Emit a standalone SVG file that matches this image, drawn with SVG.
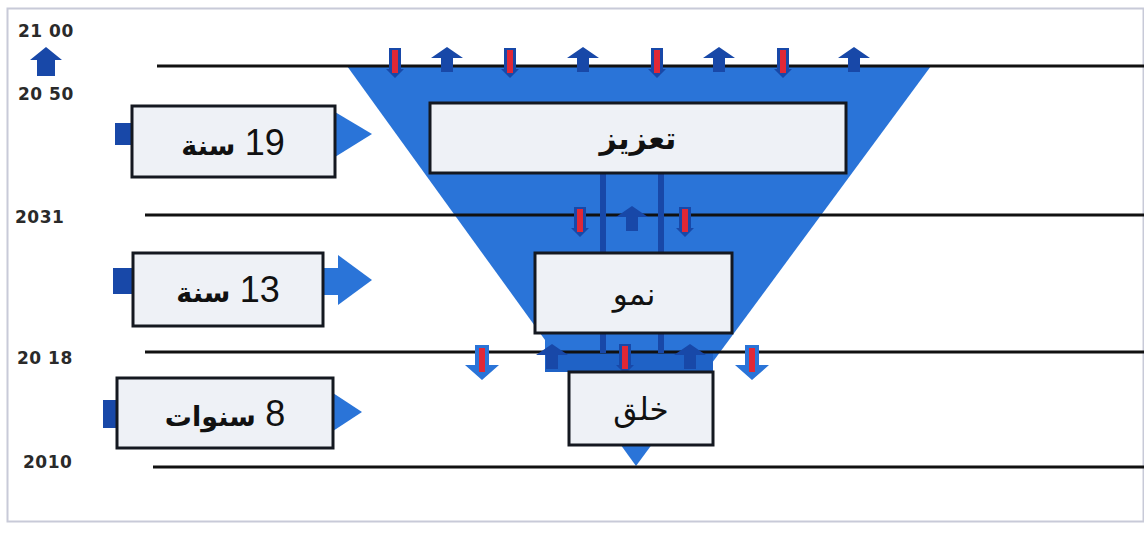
<svg xmlns="http://www.w3.org/2000/svg" width="1144" height="534" viewBox="0 0 1144 534">
<style>
.yr{font-family:"DejaVu Sans",sans-serif;font-weight:bold;font-size:17px;letter-spacing:0.5px;fill:#2a2a2a}
.ln{stroke:#111;stroke-width:3;fill:none}
.box{fill:#eef1f6;stroke:#141820;stroke-width:3}
.ar{font-family:"DejaVu Sans",sans-serif;fill:#111}
.b{font-weight:bold}
.num{font-family:"Liberation Sans",Arial,sans-serif;font-size:36px;fill:#111}
.fun{fill:#2a74d8}
.dk{fill:#1848a8}
.rd{fill:#e02836}
</style>
<defs>
<g id="upA"><polygon points="-16,11 0,0 16,11 6,11 6,25 -6,25 -6,11" class="dk"/></g>
<g id="redDn"><polygon points="-6,0 6,0 6,21 9,21 0,30 -9,21 -6,21" class="dk"/><rect x="-3" y="2" width="6" height="23" class="rd"/></g>
<g id="bigDn"><polygon points="-7,0 7,0 7,20 17,20 0,35 -17,20 -7,20" class="fun"/><rect x="-3" y="3" width="6" height="24" class="rd"/></g>
</defs>
<rect x="7.5" y="8.5" width="1136" height="513" fill="#fff" stroke="#c8cad8" stroke-width="2"/>
<g id="years">
<text class="yr" x="18" y="37">21 00</text>
<polygon points="30,60 46,47 62,60 55,60 55,76 37,76 37,60" class="dk"/>
<text class="yr" x="18" y="100">20 50</text>
<text class="yr" x="15" y="223">2031</text>
<text class="yr" x="17" y="364">20 18</text>
<text class="yr" x="23" y="468">2010</text>
</g>
<g id="funnel">
<polygon points="347,66 931,66 636,466" class="fun"/>
<rect x="545" y="340" width="168" height="32" class="fun"/>
<rect x="545" y="352" width="168" height="20" fill="#1f62c6"/>
</g>
<g id="connectors">
<line x1="157" y1="66" x2="1144" y2="66" class="ln"/>
<line x1="145" y1="215" x2="1144" y2="215" class="ln"/>
<line x1="145" y1="352" x2="1144" y2="352" class="ln"/>
<line x1="153" y1="467" x2="1144" y2="467" class="ln"/>
<rect x="600" y="173" width="6" height="180" class="dk"/>
<rect x="658" y="173" width="6" height="180" class="dk"/>
<use href="#redDn" x="395" y="48"/>
<use href="#redDn" x="510" y="48"/>
<use href="#redDn" x="657" y="48"/>
<use href="#redDn" x="783" y="48"/>
<use href="#upA" x="447" y="47"/>
<use href="#upA" x="583" y="47"/>
<use href="#upA" x="719" y="47"/>
<use href="#upA" x="854" y="47"/>
<use href="#redDn" x="580" y="207"/>
<use href="#redDn" x="685" y="207"/>
<use href="#upA" x="632" y="206"/>
<use href="#bigDn" x="482" y="345"/>
<use href="#bigDn" x="752" y="345"/>
<use href="#upA" x="552" y="344"/>
<use href="#upA" x="690" y="344"/>
<use href="#redDn" x="625" y="344"/>
</g>
<g id="node-taziz">
<rect x="430" y="103" width="416" height="70" class="box"/>
<text class="ar b" x="638" y="149" font-size="30" text-anchor="middle">تعزيز</text>
</g>
<g id="node-numu">
<rect x="535" y="253" width="197" height="80" class="box"/>
<text class="ar" x="634" y="305" font-size="31" text-anchor="middle">نمو</text>
</g>
<g id="node-khalq">
<rect x="569" y="372" width="144" height="73" class="box"/>
<text class="ar" x="641" y="420" font-size="31" text-anchor="middle">خلق</text>
</g>
<g id="dur-19">
<rect x="115" y="123" width="18" height="22" class="dk"/>
<polygon points="335,112 372,134 335,157" class="fun"/>
<rect x="132" y="106" width="203" height="71" class="box"/>
<text x="233" y="155" text-anchor="middle" direction="rtl"><tspan class="num">19</tspan><tspan class="ar b" font-size="27"> سنة</tspan></text>
</g>
<g id="dur-13">
<rect x="113" y="268" width="21" height="26" class="dk"/>
<rect x="322" y="268" width="20" height="27" class="fun"/>
<polygon points="338,255 372,280 338,305" class="fun"/>
<rect x="133" y="253" width="190" height="73" class="box"/>
<text x="228" y="302" text-anchor="middle" direction="rtl"><tspan class="num">13</tspan><tspan class="ar b" font-size="27"> سنة</tspan></text>
</g>
<g id="dur-8">
<rect x="103" y="400" width="15" height="28" class="dk"/>
<polygon points="333,393 362,412 333,431" class="fun"/>
<rect x="117" y="378" width="216" height="70" class="box"/>
<text x="225" y="426" text-anchor="middle" direction="rtl"><tspan class="num">8</tspan><tspan class="ar b" font-size="27"> سنوات</tspan></text>
</g>
</svg>
